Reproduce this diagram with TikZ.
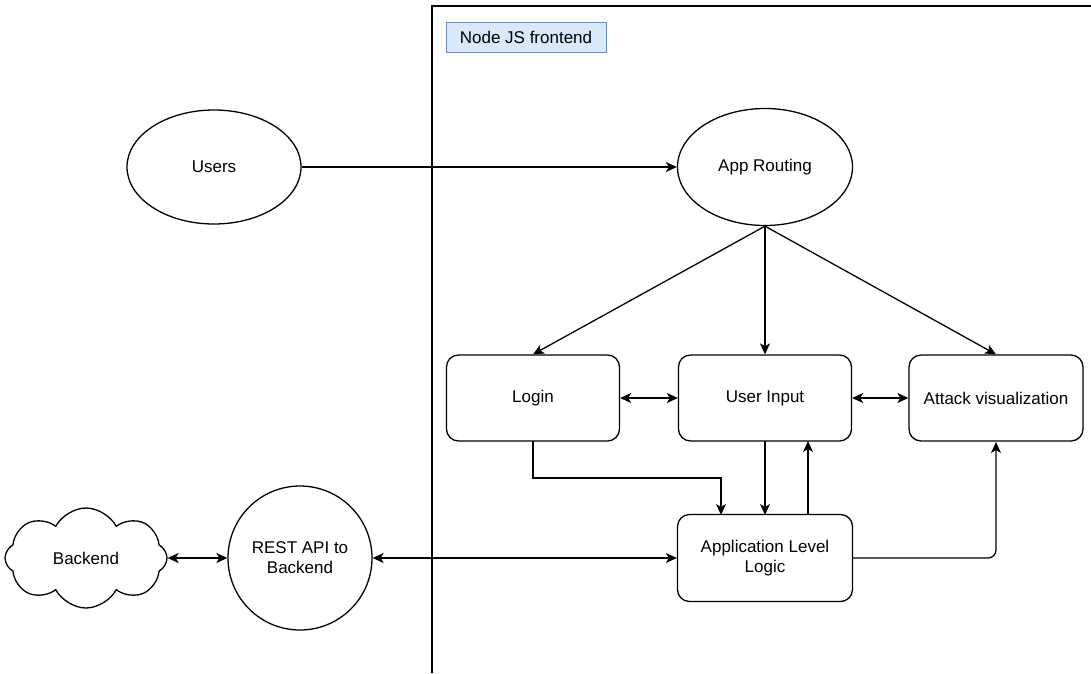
\documentclass[tikz,border=0pt]{standalone}
\usepackage{fontspec}
\setmainfont{Liberation Sans}
\usetikzlibrary{arrows.meta,shapes.symbols,shapes.geometric}
\definecolor{tagfill}{RGB}{218,232,252}
\definecolor{tagline}{RGB}{108,142,191}
\tikzset{
  base/.style={draw=black, line width=1.3pt, font=\fontsize{17}{20}\selectfont, align=center},
  oval/.style={base, ellipse, minimum width=174, minimum height=114, inner sep=0pt},
  roundbox/.style={base, rectangle, rounded corners=12, minimum width=173, minimum height=86, inner sep=0pt},
  tip/.tip={Stealth[length=11pt,width=10pt,inset=3pt]},
  conn/.style={line width=1.3pt, -tip},
  biconn/.style={line width=1.3pt, tip-tip},
}
\begin{document}
\begin{tikzpicture}[x=1pt,y=-1pt]
\useasboundingbox (0,0) rectangle (1091,673);
\fill[white] (0,0) rectangle (1091,673);

% frontend container
\draw[line width=1.3pt] (432,673) -- (432,6) -- (1095,6);
\node[draw=tagline, fill=tagfill, line width=1pt,
      minimum width=160, minimum height=30, inner sep=0pt,
      font=\fontsize{17}{20}\selectfont] (lbl) at (526,37) {Node JS frontend};

% nodes
\node[oval] (users) at (214,167) {Users};
\node[oval, minimum width=175, minimum height=117] (route) at (765,167) {App Routing};
\node[roundbox] (login) at (533,398) {Login};
\node[roundbox] (input) at (765,398) {User Input};
\node[roundbox, minimum width=174] (attack) at (996,398) {Attack visualization};
\node[roundbox, minimum width=175, minimum height=87] (logic) at (765,558) {Application Level\\Logic};
\node[base, circle, minimum size=144, inner sep=0pt] (rest) at (300,558) {REST API to\\Backend};
\node[base, cloud, cloud puffs=8, cloud puff arc=125, aspect=1.6,
      minimum width=162, minimum height=100, inner sep=0pt] (backend) at (86,558) {Backend};

% helper points
\coordinate (lb) at (533,441);
\coordinate (ltop) at (721,515);
\coordinate (ib) at (765,441);
\coordinate (it) at (765,515);
\coordinate (ub) at (808,441);
\coordinate (ut) at (808,515);
\coordinate (ab) at (996,442);

% connectors
\draw[conn] (users.east) -- (route.west);
\draw[conn] (route.south) -- (login.north);
\draw[conn] (route.south) -- (input.north);
\draw[conn] (route.south) -- (attack.north);
\draw[biconn] (login.east) -- (input.west);
\draw[biconn] (input.east) -- (attack.west);
\draw[conn] (lb) |- (721,478) -- (ltop);
\draw[conn] (ib) -- (it);
\draw[conn] (ut) -- (ub);
\draw[conn, rounded corners=8] (logic.east) -| (ab);
\draw[biconn] (rest.east) -- (logic.west);
\draw[biconn] (backend.east) -- (rest.west);
\end{tikzpicture}
\end{document}
